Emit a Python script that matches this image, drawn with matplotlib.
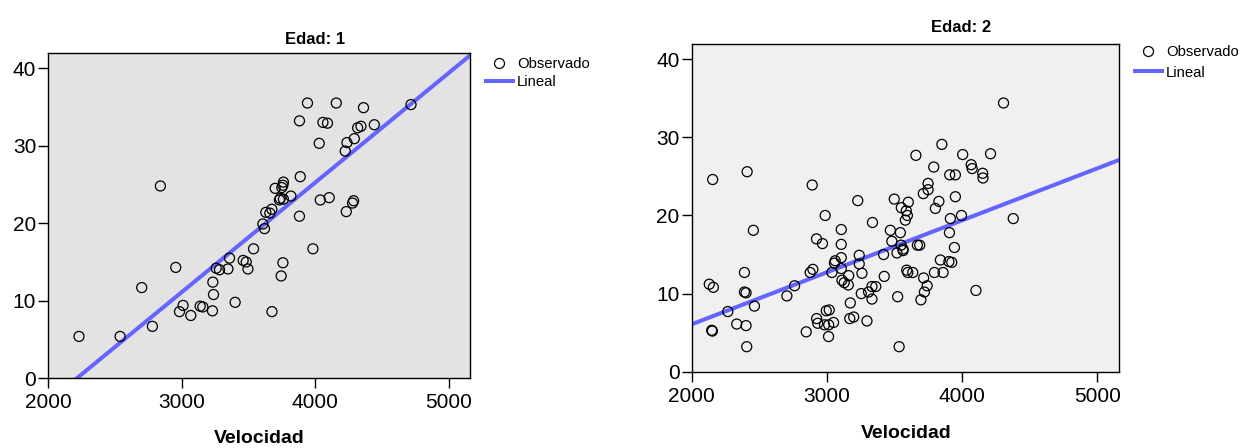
import numpy as np
import matplotlib.pyplot as plt
from matplotlib.lines import Line2D

plt.rcParams['font.family'] = ['Liberation Sans', 'DejaVu Sans']

# Edad 1: Velocidad vs observed value
vel_1 = [3942, 4158, 3882, 4058, 4092, 4030, 3888, 2840, 3762, 3758,
         3750, 3700, 3818, 3738, 3732, 3762, 4038, 4105, 3630, 3660,
         3675, 3882, 4362, 4443, 4318, 4343, 4293, 4238, 4225, 4718,
         4288, 4280, 4233, 3608, 3620, 3538, 3358, 3983, 3758, 3745,
         2955, 3258, 3283, 3346, 3460, 3483, 3496, 3233, 3238, 3230,
         2700, 3010, 2983, 3068, 3138, 3158, 3400, 3676, 2780, 2538,
         2230]
obs_1 = [35.5, 35.5, 33.2, 33.0, 32.9, 30.3, 26.0, 24.8, 25.3, 24.9,
         24.6, 24.5, 23.5, 23.2, 23.0, 23.1, 23.0, 23.3, 21.4, 21.3,
         21.8, 20.9, 34.9, 32.7, 32.3, 32.5, 30.9, 30.4, 29.3, 35.3,
         22.9, 22.6, 21.5, 19.9, 19.3, 16.7, 15.5, 16.7, 14.9, 13.2,
         14.3, 14.2, 14.0, 14.1, 15.2, 15.0, 14.1, 12.4, 10.8, 8.7,
         11.7, 9.4, 8.6, 8.1, 9.3, 9.2, 9.8, 8.6, 6.7, 5.4,
         5.4]

# Edad 2
vel_2 = [2155, 2410, 2456, 2891, 2987, 3106, 2923, 2967, 3106, 3228,
         3337, 3469, 3498, 3602, 3550, 3587, 3595, 3580, 3543, 3480,
         3658, 3850, 4004, 3790, 3748, 3748, 3713, 3908, 3950, 4067,
         4074, 4152, 4154, 3828, 3802, 3950, 3995, 3913, 3906, 3669,
         3686, 3943, 4306, 4210, 4378, 3548, 3563, 3563, 3518, 3419,
         3239, 3239, 3061, 3056, 3106, 3106, 2896, 2876, 3037, 3161,
         3259, 3424, 3590, 3598, 3635, 3839, 3902, 3923, 3795, 3859,
         3715, 3741, 3721, 3695, 3111, 3128, 3158, 3333, 3361, 3308,
         3254, 3333, 3523, 3173, 2761, 2704, 2390, 2130, 2160, 2390,
         2402, 2464, 2267, 2333, 2402, 2148, 2153, 2407, 2995, 3017,
         2924, 2932, 2982, 3013, 3049, 2847, 3012, 3169, 3198, 3296,
         3534, 4102]
obs_2 = [24.6, 25.6, 18.1, 23.9, 20.0, 18.2, 17.0, 16.4, 16.3, 21.9,
         19.1, 18.1, 22.1, 21.7, 21.0, 20.6, 20.0, 19.4, 17.8, 16.7,
         27.7, 29.1, 27.8, 26.2, 24.1, 23.3, 22.8, 25.2, 25.2, 26.5,
         26.0, 25.4, 24.8, 21.8, 20.9, 22.4, 20.0, 19.6, 17.8, 16.2,
         16.2, 15.9, 34.4, 27.9, 19.6, 16.2, 15.7, 15.5, 15.2, 15.0,
         14.9, 13.8, 14.2, 13.9, 14.6, 13.2, 13.1, 12.7, 12.7, 12.3,
         12.6, 12.2, 13.0, 12.7, 12.7, 14.3, 14.1, 14.0, 12.7, 12.7,
         12.0, 11.0, 10.2, 9.2, 11.7, 11.4, 11.1, 10.9, 10.9, 10.2,
         10.0, 9.3, 9.6, 8.8, 11.0, 9.7, 12.7, 11.2, 10.8, 10.2,
         10.1, 8.4, 7.7, 6.1, 5.9, 5.3, 5.2, 3.2, 7.8, 7.9,
         6.8, 6.2, 6.0, 6.0, 6.3, 5.1, 4.5, 6.8, 7.0, 6.5,
         3.2, 10.4]

# linear fit (intercept, slope)
fit_1 = (-31.28, 0.01413)
fit_2 = (-7.24, 0.006655)

x_ticks = [2000, 3000, 4000, 5000]
y_ticks = [0, 10, 20, 30, 40]

W, H = 1247, 448
fig = plt.figure(figsize=(W / 100, H / 100), dpi=100)


def px(x0, y0, x1, y1):
    # pixel box -> figure fraction rect
    return [x0 / W, 1 - y1 / H, (x1 - x0) / W, (y1 - y0) / H]


line_col = '#6464ff'


def panel(rect, vel, obs, fit, bg, title, title_xy, xlabel_xy, leg_xy, gap):
    ax = fig.add_axes(rect)
    ax.set_facecolor(bg)
    ax.scatter(vel, obs, s=52, facecolors='none', edgecolors='black',
               linewidths=0.9, zorder=3)
    xs = np.array([2000, 5160])
    ax.plot(xs, fit[0] + fit[1] * xs, color=line_col, lw=2.9, zorder=2)
    ax.set_xlim(2000, 5160)
    ax.set_ylim(0, 41.95)
    ax.set_xticks(x_ticks)
    ax.set_yticks(y_ticks)
    ax.tick_params(axis='both', labelsize=15, length=7.2, width=1,
                   direction='out', colors='black')
    ax.tick_params(axis='x', pad=3.5)
    ax.tick_params(axis='y', pad=1.5)
    for s in ax.spines.values():
        s.set_color('black')
        s.set_linewidth(1.0)
    fig.text(title_xy[0] / W, 1 - title_xy[1] / H, title, fontsize=12,
             fontweight='bold', ha='center', va='center')
    fig.text(xlabel_xy[0] / W, 1 - xlabel_xy[1] / H, 'Velocidad',
             fontsize=14, fontweight='bold', ha='center', va='center')
    handles = [Line2D([], [], ls='none', marker='o', mfc='none', mec='black',
                      ms=7.2, mew=0.9),
               Line2D([], [], color=line_col, lw=2.9)]
    fig.legend(handles, ['Observado', 'Lineal'], loc='upper left',
               bbox_to_anchor=(leg_xy[0] / W, 1 - leg_xy[1] / H),
               frameon=False, fontsize=10.7, handlelength=1.8,
               handletextpad=0.3, labelspacing=gap, borderpad=0,
               borderaxespad=0)
    return ax


panel(px(48.3, 53, 470, 378.3), vel_1, obs_1, fit_1, '#e3e3e3',
      'Edad: 1', (315, 39), (259, 438), (486, 57), 0.3)
panel(px(691.7, 44, 1119, 371.7), vel_2, obs_2, fit_2, '#f0f0f0',
      'Edad: 2', (961, 28), (906, 433), (1135, 45), 0.45)

fig.savefig('out.png', dpi=100)
